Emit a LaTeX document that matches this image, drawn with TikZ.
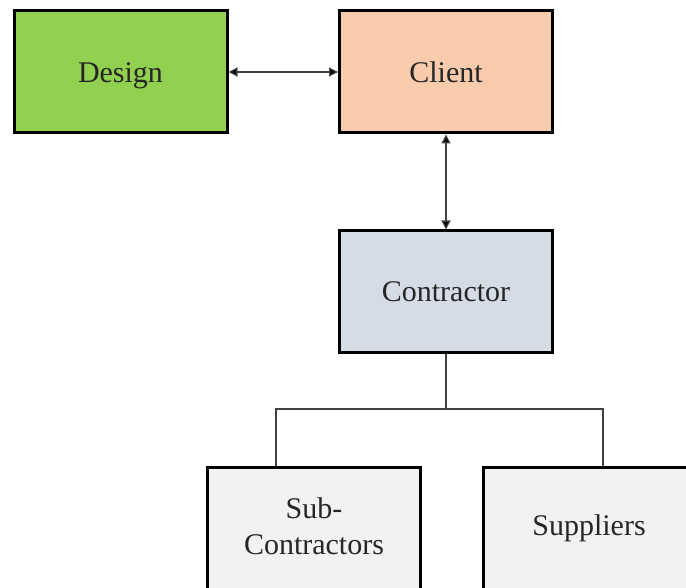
\documentclass[tikz,border=0pt]{standalone}
\usepackage{fontspec}
\setmainfont{Liberation Serif}
\usetikzlibrary{arrows.meta}
\definecolor{cdesign}{HTML}{92D050}
\definecolor{cclient}{HTML}{F8CBAD}
\definecolor{ccontr}{HTML}{D6DCE5}
\definecolor{csub}{HTML}{F2F2F2}
\definecolor{cline}{HTML}{404040}
\begin{document}
\begin{tikzpicture}[x=1pt,y=1pt,
  box/.style={draw=black, line width=3pt, rectangle, inner sep=0pt},
  lbl/.style={font=\fontsize{30}{36}\selectfont, anchor=base, inner sep=0pt, text=black!85},
  conn/.style={draw=cline, line width=1.3pt},
  tip/.style={{Triangle[length=9pt,width=9pt,fill=black]}-{Triangle[length=9pt,width=9pt,fill=black]}}]
\useasboundingbox (0,0) rectangle (686,-588);
\clip (0,0) rectangle (686,-588);
\node[box, fill=cdesign, minimum width=213pt, minimum height=122pt] (design) at (120.5,-72) {};
\node[box, fill=cclient, minimum width=213pt, minimum height=122pt] (client) at (446,-72) {};
\node[box, fill=ccontr, minimum width=213pt, minimum height=121pt] (contractor) at (446,-291.5) {};
\node[box, fill=csub, minimum width=213pt, minimum height=140pt] (sub) at (314,-537.5) {};
\node[box, fill=csub, minimum width=213pt, minimum height=140pt] (sup) at (590,-537.5) {};
\node[lbl] (tdesign) at ([yshift=-11pt]design.center) {Design};
\node[lbl] (tclient) at ([yshift=-11pt]client.center) {Client};
\node[lbl] (tcontr) at ([yshift=-10.5pt]contractor.center) {Contractor};
\node[lbl] (tsub1) at (314,-518) {Sub-};
\node[lbl] (tsub2) at (314,-554) {Contractors};
\node[lbl] (tsup) at (589,-535) {Suppliers};
\draw[conn, tip] (design.east) -- (client.west);
\draw[conn, tip] (client.south) -- (contractor.north);
\coordinate (bus) at (446,-409);
\draw[conn] (contractor.south) -- (bus);
\draw[conn] ([xshift=-38pt]sub.north) |- (bus) -| ([xshift=13pt]sup.north);
\end{tikzpicture}
\end{document}
